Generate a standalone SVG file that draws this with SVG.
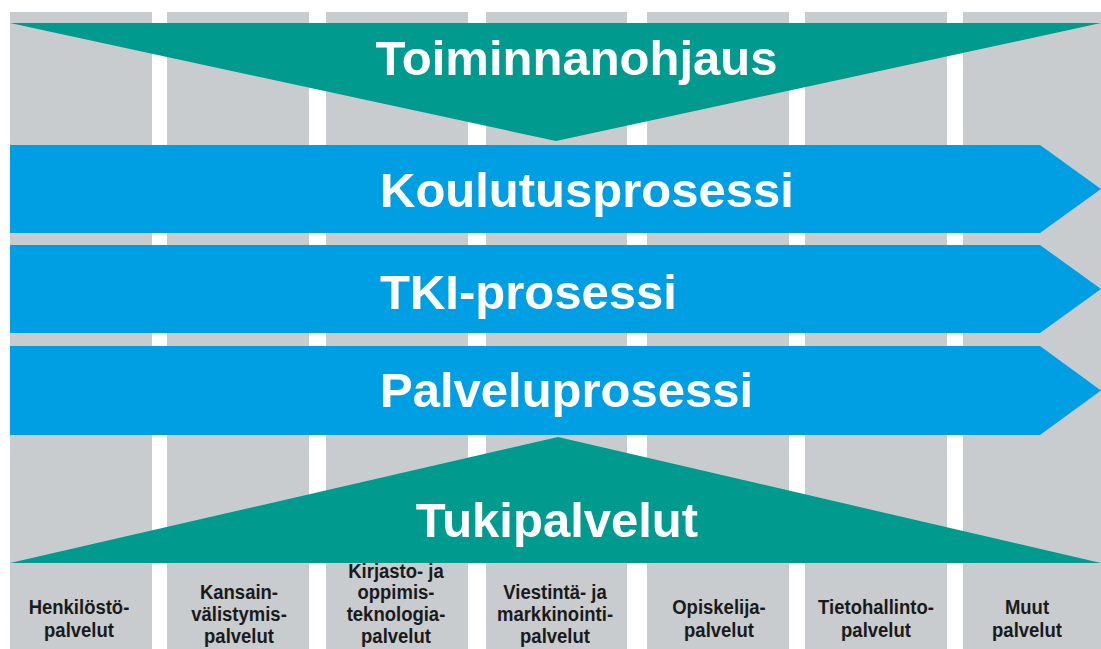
<svg xmlns="http://www.w3.org/2000/svg" width="1101" height="649" viewBox="0 0 1101 649">
  <style>
    .col { fill: #C8CCCF; }
    .teal { fill: #009A8E; }
    .blue { fill: #009FE3; }
    .big { font-family: "Liberation Sans", Arial, sans-serif; font-weight: bold; font-size: 49px; fill: #FFFFFF; }
    .lbl { font-family: "Liberation Sans", Arial, sans-serif; font-weight: bold; font-size: 18.5px; fill: #1A1A1A; text-anchor: middle; }
  </style>
  <rect x="0" y="0" width="1101" height="649" fill="#FFFFFF"/>
  <g id="columns">
    <rect class="col" x="10" y="12" width="142" height="637"/>
    <rect class="col" x="167" y="12" width="142" height="637"/>
    <rect class="col" x="326" y="12" width="142" height="637"/>
    <rect class="col" x="486" y="12" width="141" height="637"/>
    <rect class="col" x="647" y="12" width="142" height="637"/>
    <rect class="col" x="805" y="12" width="142" height="637"/>
    <rect class="col" x="963" y="12" width="138" height="637"/>
  </g>
  <g id="toiminnanohjaus">
    <polygon class="teal" points="10,23 1101,23 556,141"/>
    <text class="big" x="576.5" y="75" text-anchor="middle">Toiminnanohjaus</text>
  </g>
  <g id="koulutusprosessi">
    <polygon class="blue" points="10,145 1040,145 1101,189 1040,233 10,233"/>
    <text class="big" x="380" y="207">Koulutusprosessi</text>
  </g>
  <g id="tki-prosessi">
    <polygon class="blue" points="10,245 1040,245 1101,289 1040,333 10,333"/>
    <text class="big" x="380" y="309">TKI-prosessi</text>
  </g>
  <g id="palveluprosessi">
    <polygon class="blue" points="10,346 1040,346 1101,390.5 1040,435 10,435"/>
    <text class="big" x="380" y="407">Palveluprosessi</text>
  </g>
  <g id="tukipalvelut">
    <polygon class="teal" points="10,563 558,437 1101,563"/>
    <text class="big" x="557" y="537" text-anchor="middle">Tukipalvelut</text>
  </g>
  <g id="connectors"></g>
  <g id="labels" transform="scale(1,1.1)">
    <g id="henkilostopalvelut">
      <text class="lbl" x="79" y="558.18">Henkilöstö-</text>
      <text class="lbl" x="79" y="579.09">palvelut</text>
    </g>
    <g id="kansainvalistymispalvelut">
      <text class="lbl" x="239" y="544.55">Kansain-</text>
      <text class="lbl" x="239" y="564.55">välistymis-</text>
      <text class="lbl" x="239" y="584.55">palvelut</text>
    </g>
    <g id="kirjastopalvelut">
      <text class="lbl" x="396" y="525.45">Kirjasto- ja</text>
      <text class="lbl" x="396" y="544.55">oppimis-</text>
      <text class="lbl" x="396" y="564.55">teknologia-</text>
      <text class="lbl" x="396" y="584.55">palvelut</text>
    </g>
    <g id="viestintapalvelut">
      <text class="lbl" x="555" y="544.55">Viestintä- ja</text>
      <text class="lbl" x="555" y="564.55">markkinointi-</text>
      <text class="lbl" x="555" y="584.55">palvelut</text>
    </g>
    <g id="opiskelijapalvelut">
      <text class="lbl" x="719" y="558.18">Opiskelija-</text>
      <text class="lbl" x="719" y="579.09">palvelut</text>
    </g>
    <g id="tietohallintopalvelut">
      <text class="lbl" x="876" y="558.18">Tietohallinto-</text>
      <text class="lbl" x="876" y="579.09">palvelut</text>
    </g>
    <g id="muutpalvelut">
      <text class="lbl" x="1027" y="558.18">Muut</text>
      <text class="lbl" x="1027" y="579.09">palvelut</text>
    </g>
  </g>
</svg>
